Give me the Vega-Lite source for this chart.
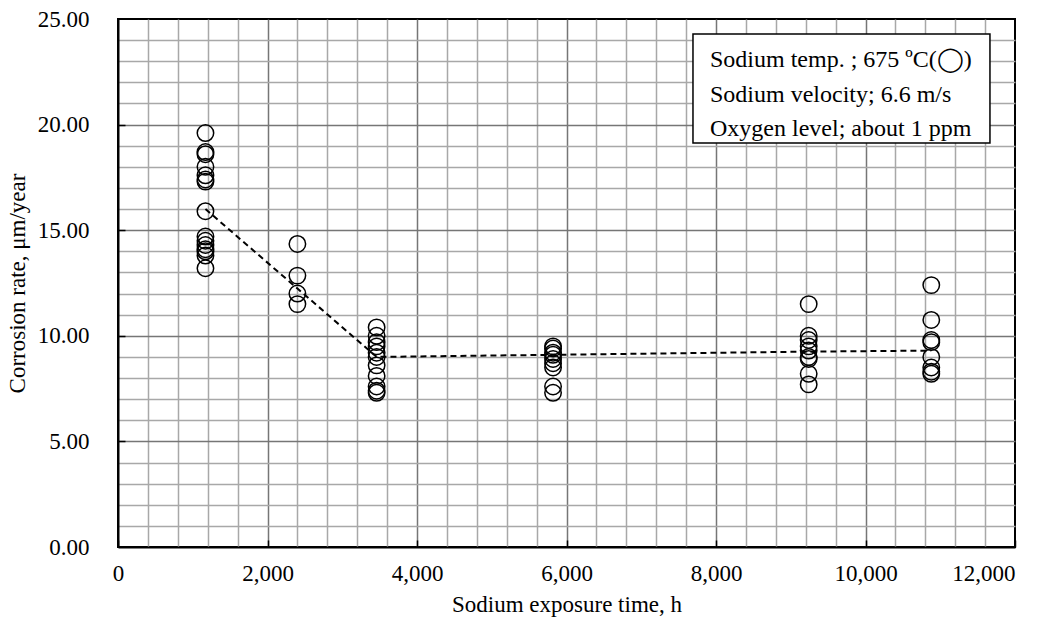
{
  "$schema": "https://vega.github.io/schema/vega-lite/v6.json",
  "width": 897,
  "height": 528,
  "autosize": {"type": "none"},
  "padding": {"left": 118, "top": 19, "right": 34, "bottom": 79},
  "background": "white",
  "config": {
    "font": "Liberation Serif",
    "view": {"stroke": "black", "strokeWidth": 2},
    "axis": {
      "labelFont": "Liberation Serif",
      "labelFontSize": 23,
      "labelColor": "black",
      "titleFont": "Liberation Serif",
      "titleFontSize": 23,
      "titleFontWeight": "normal",
      "titleColor": "black",
      "domainColor": "black",
      "domainWidth": 2,
      "gridWidth": 1.5,
      "tickColor": "black",
      "tickWidth": 1.5,
      "tickSize": -7,
      "labelOverlap": false,
      "labelFlush": false
    }
  },
  "datasets": {
    "obs": [
      {"time": 1170, "rate": 19.6}, {"time": 1170, "rate": 18.7}, {"time": 1170, "rate": 18.6},
      {"time": 1170, "rate": 18.0}, {"time": 1170, "rate": 17.6}, {"time": 1170, "rate": 17.4},
      {"time": 1170, "rate": 17.3}, {"time": 1170, "rate": 15.9}, {"time": 1170, "rate": 14.7},
      {"time": 1170, "rate": 14.5}, {"time": 1170, "rate": 14.3}, {"time": 1170, "rate": 14.1},
      {"time": 1170, "rate": 14.0}, {"time": 1170, "rate": 13.8}, {"time": 1170, "rate": 13.2},
      {"time": 2400, "rate": 14.35}, {"time": 2400, "rate": 12.85}, {"time": 2400, "rate": 12.0},
      {"time": 2400, "rate": 11.5},
      {"time": 3460, "rate": 10.4}, {"time": 3460, "rate": 10.0}, {"time": 3460, "rate": 9.7},
      {"time": 3460, "rate": 9.5}, {"time": 3460, "rate": 9.2}, {"time": 3460, "rate": 9.0},
      {"time": 3460, "rate": 8.6}, {"time": 3460, "rate": 8.1}, {"time": 3460, "rate": 7.6},
      {"time": 3460, "rate": 7.4}, {"time": 3460, "rate": 7.3},
      {"time": 5820, "rate": 9.5}, {"time": 5820, "rate": 9.4}, {"time": 5820, "rate": 9.2},
      {"time": 5820, "rate": 9.1}, {"time": 5820, "rate": 8.9}, {"time": 5820, "rate": 8.7},
      {"time": 5820, "rate": 8.5}, {"time": 5820, "rate": 7.6}, {"time": 5820, "rate": 7.3},
      {"time": 9240, "rate": 11.5}, {"time": 9240, "rate": 10.0}, {"time": 9240, "rate": 9.8},
      {"time": 9240, "rate": 9.5}, {"time": 9240, "rate": 9.3}, {"time": 9240, "rate": 9.0},
      {"time": 9240, "rate": 8.9}, {"time": 9240, "rate": 8.2}, {"time": 9240, "rate": 7.7},
      {"time": 10880, "rate": 12.4}, {"time": 10880, "rate": 10.75}, {"time": 10880, "rate": 9.8},
      {"time": 10880, "rate": 9.7}, {"time": 10880, "rate": 9.0}, {"time": 10880, "rate": 8.5},
      {"time": 10880, "rate": 8.3}, {"time": 10880, "rate": 8.2}
    ],
    "trend": [
      {"time": 1170, "rate": 16.0},
      {"time": 3460, "rate": 9.0},
      {"time": 5820, "rate": 9.1},
      {"time": 9240, "rate": 9.25},
      {"time": 10880, "rate": 9.3}
    ],
    "note": [
      {"time": 7692, "time2": 11665, "rate": 24.29, "rate2": 19.13}
    ],
    "noteText": [
      {"time": 7920, "rate": 23.06, "label": "Sodium temp. ; 675 ºC(◯)"},
      {"time": 7920, "rate": 21.4, "label": "Sodium velocity; 6.6 m/s"},
      {"time": 7920, "rate": 19.8, "label": "Oxygen level; about 1 ppm"}
    ]
  },
  "encoding": {
    "x": {
      "field": "time", "type": "quantitative",
      "scale": {"domain": [0, 12000], "nice": false, "zero": false},
      "axis": {
        "title": "Sodium exposure time, h",
        "titlePadding": 8,
        "labelPadding": 22,
        "values": [0, 400, 800, 1200, 1600, 2000, 2400, 2800, 3200, 3600, 4000, 4400, 4800, 5200, 5600, 6000, 6400, 6800, 7200, 7600, 8000, 8400, 8800, 9200, 9600, 10000, 10400, 10800, 11200, 11600, 12000],
        "labelExpr": "datum.value % 2000 === 0 ? format(datum.value, ',') : ''",
        "labelAlign": {"condition": {"test": "datum.value === 12000", "value": "right"}, "value": "center"},
        "gridColor": {"condition": {"test": "datum.value % 2000 === 0", "value": "#767676"}, "value": "#a8a8a8"},
        "gridOpacity": {"condition": {"test": "datum.value === 0 || datum.value === 12000", "value": 0}, "value": 1},
        "tickOpacity": {"condition": {"test": "datum.value % 2000 === 0", "value": 1}, "value": 0}
      }
    },
    "y": {
      "field": "rate", "type": "quantitative",
      "scale": {"domain": [0, 25], "nice": false, "zero": false},
      "axis": {
        "title": "Corrosion rate, μm/year",
        "titlePadding": 8,
        "labelPadding": 36,
        "values": [0, 1, 2, 3, 4, 5, 6, 7, 8, 9, 10, 11, 12, 13, 14, 15, 16, 17, 18, 19, 20, 21, 22, 23, 24, 25],
        "labelExpr": "datum.value % 5 === 0 ? format(datum.value, '.2f') : ''",
        "gridColor": {"condition": {"test": "datum.value % 5 === 0", "value": "#767676"}, "value": "#a8a8a8"},
        "gridOpacity": {"condition": {"test": "datum.value === 0 || datum.value === 25", "value": 0}, "value": 1},
        "tickOpacity": {"condition": {"test": "datum.value % 5 === 0 && datum.value > 0 && datum.value < 25", "value": 1}, "value": 0}
      }
    }
  },
  "layer": [
    {
      "data": {"name": "obs"},
      "mark": {"type": "point", "shape": "circle", "filled": false, "size": 270, "stroke": "black", "strokeWidth": 1.5, "opacity": 1}
    },
    {
      "data": {"name": "trend"},
      "mark": {"type": "line", "color": "black", "strokeWidth": 2, "strokeDash": [6, 4]}
    },
    {
      "data": {"name": "note"},
      "mark": {"type": "rect", "fill": "white", "stroke": "black", "strokeWidth": 1.5},
      "encoding": {
        "x2": {"field": "time2"},
        "y2": {"field": "rate2"}
      }
    },
    {
      "data": {"name": "noteText"},
      "mark": {"type": "text", "align": "left", "baseline": "middle", "fontSize": 24, "font": "Liberation Serif", "color": "black"},
      "encoding": {
        "text": {"field": "label"}
      }
    }
  ]
}
